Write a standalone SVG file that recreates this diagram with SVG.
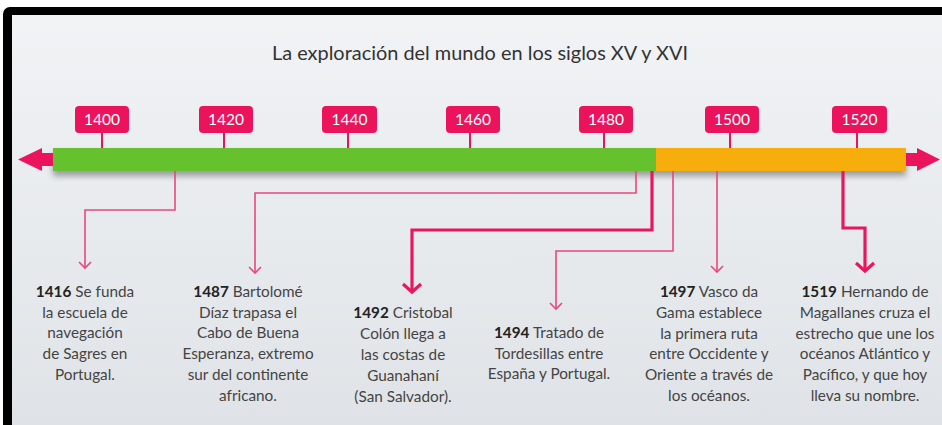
<svg xmlns="http://www.w3.org/2000/svg" width="942" height="425" viewBox="0 0 942 425">
<defs>
<linearGradient id="bg" x1="0" y1="0" x2="0" y2="1">
<stop offset="0" stop-color="#f1f3f5"/>
<stop offset="1" stop-color="#dfe3e7"/>
</linearGradient>
<filter id="sh" x="-5%" y="-50%" width="110%" height="250%">
<feDropShadow dx="0" dy="5" stdDeviation="3" flood-color="#000" flood-opacity="0.35"/>
</filter>
<marker id="chev" markerUnits="userSpaceOnUse" markerWidth="16" markerHeight="16" refX="8" refY="8" orient="auto" overflow="visible">
<path d="M2,2 L8,8 L2,14" fill="none" stroke="#e9487c" stroke-width="1.6"/>
</marker>
<marker id="chevB" markerUnits="userSpaceOnUse" markerWidth="22" markerHeight="22" refX="11" refY="11" orient="auto" overflow="visible">
<path d="M3,2 L11,11 L3,20" fill="none" stroke="#e8175d" stroke-width="3.2"/>
</marker>
<style>
.yr rect{fill:#ec135d}
.yr line{stroke:#ec135d;stroke-width:2}
.yr text{fill:#fff;font-family:Lato,"Liberation Sans",sans-serif;font-size:15.5px;text-anchor:middle}
.thin{fill:none;stroke:#e9487c;stroke-width:1.6;marker-end:url(#chev)}
.thick{fill:none;stroke:#e8175d;stroke-width:3.2;marker-end:url(#chevB)}
.ev{font-family:Lato,"Liberation Sans",sans-serif;font-size:15.3px;fill:#444;text-anchor:middle}
.ev .b{font-weight:bold;fill:#222}
</style>
</defs>
<rect x="0" y="0" width="942" height="425" fill="#fff"/>
<rect x="3" y="7" width="960" height="440" rx="7" fill="#000"/>
<rect x="12" y="15" width="930" height="410" fill="url(#bg)"/>

<text id="title" x="480" y="60" font-family="Lato,'Liberation Sans',sans-serif" font-size="19" fill="#333" text-anchor="middle" textLength="416" lengthAdjust="spacingAndGlyphs">La exploración del mundo en los siglos XV y XVI</text>

<g id="timeline">
<g filter="url(#sh)">
<rect x="53" y="148" width="603" height="23" fill="#65c22e"/>
<rect x="656" y="148" width="250" height="23" fill="#f7ae0b"/>
</g>
<path d="M18,159.5 L42,148 L42,153 L53,153 L53,166 L42,166 L42,171 Z" fill="#ec135d"/>
<path d="M906,153 L917,153 L917,148 L940,159.5 L917,171 L917,166 L906,166 Z" fill="#ec135d"/>
</g>

<g id="y1400" class="yr"><line x1="102" y1="133" x2="102" y2="148"/><rect x="75" y="106" width="54" height="27" rx="4"/><text x="102" y="125">1400</text></g>
<g id="y1420" class="yr"><line x1="224" y1="133" x2="224" y2="148"/><rect x="199" y="106" width="54" height="27" rx="4"/><text x="226" y="125">1420</text></g>
<g id="y1440" class="yr"><line x1="348" y1="133" x2="348" y2="148"/><rect x="322" y="106" width="55" height="27" rx="4"/><text x="349.5" y="125">1440</text></g>
<g id="y1460" class="yr"><line x1="470" y1="133" x2="470" y2="148"/><rect x="446" y="106" width="54" height="27" rx="4"/><text x="473" y="125">1460</text></g>
<g id="y1480" class="yr"><line x1="604" y1="133" x2="604" y2="148"/><rect x="579" y="106" width="54" height="27" rx="4"/><text x="606" y="125">1480</text></g>
<g id="y1500" class="yr"><line x1="730" y1="133" x2="730" y2="148"/><rect x="705" y="106" width="54" height="27" rx="4"/><text x="732" y="125">1500</text></g>
<g id="y1520" class="yr"><line x1="857" y1="133" x2="857" y2="148"/><rect x="832" y="106" width="55" height="27" rx="4"/><text x="859.5" y="125">1520</text></g>

<g id="connectors">
<path class="thin" d="M175,171 V210 H85 V268"/>
<path class="thin" d="M636,171 V193 H255 V273"/>
<path class="thick" d="M652,171 V230 H412 V292"/>
<path class="thin" d="M673,171 V251 H556 V309"/>
<path class="thin" d="M717,171 V272"/>
<path class="thick" d="M843,171 V228 H865 V271"/>
</g>

<g id="e1416"><text class="ev" x="85" y="297"><tspan class="b">1416</tspan> Se funda<tspan x="85" dy="20.7">la escuela de</tspan><tspan x="85" dy="20.7">navegación</tspan><tspan x="85" dy="20.7">de Sagres en</tspan><tspan x="85" dy="20.7">Portugal.</tspan></text></g>
<g id="e1487"><text class="ev" x="248" y="297"><tspan class="b">1487</tspan> Bartolomé<tspan x="248" dy="20.7">Díaz trapasa el</tspan><tspan x="248" dy="20.7">Cabo de Buena</tspan><tspan x="248" dy="20.7">Esperanza, extremo</tspan><tspan x="248" dy="20.7">sur del continente</tspan><tspan x="248" dy="20.7">africano.</tspan></text></g>
<g id="e1492"><text class="ev" x="403" y="318"><tspan class="b">1492</tspan> Cristobal<tspan x="403" dy="21">Colón llega a</tspan><tspan x="403" dy="21">las costas de</tspan><tspan x="403" dy="21">Guanahaní</tspan><tspan x="403" dy="21">(San Salvador).</tspan></text></g>
<g id="e1494"><text class="ev" x="549" y="338"><tspan class="b">1494</tspan> Tratado de<tspan x="549" dy="20.7">Tordesillas entre</tspan><tspan x="549" dy="20.7">España y Portugal.</tspan></text></g>
<g id="e1497"><text class="ev" x="709" y="297"><tspan class="b">1497</tspan> Vasco da<tspan x="709" dy="20.8">Gama establece</tspan><tspan x="709" dy="20.8">la primera ruta</tspan><tspan x="709" dy="20.8">entre Occidente y</tspan><tspan x="709" dy="20.8">Oriente a través de</tspan><tspan x="709" dy="20.8">los océanos.</tspan></text></g>
<g id="e1519"><text class="ev" x="865" y="297"><tspan class="b">1519</tspan> Hernando de<tspan x="865" dy="20.8">Magallanes cruza el</tspan><tspan x="865" dy="20.8">estrecho que une los</tspan><tspan x="865" dy="20.8">océanos Atlántico y</tspan><tspan x="865" dy="20.8">Pacífico, y que hoy</tspan><tspan x="865" dy="20.8">lleva su nombre.</tspan></text></g>
</svg>
